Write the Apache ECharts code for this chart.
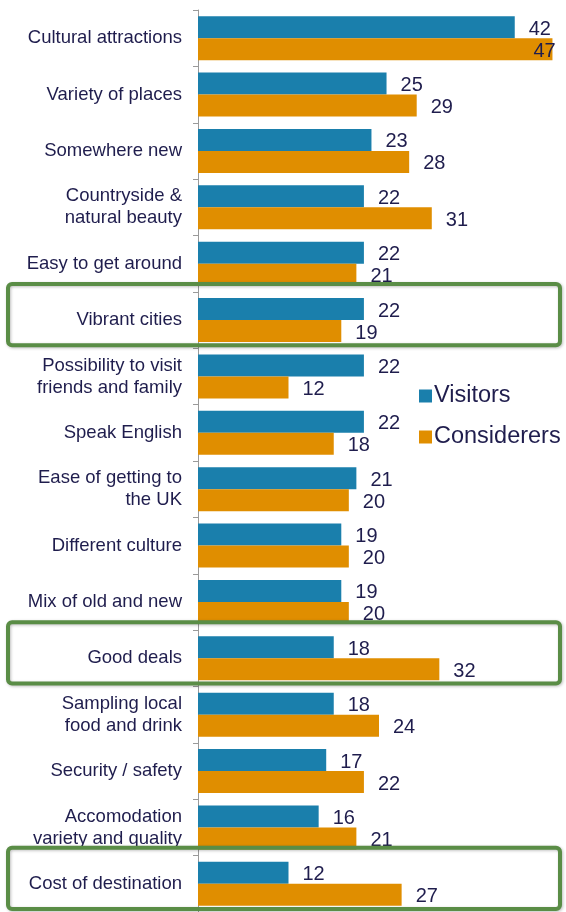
<!DOCTYPE html>
<html>
<head>
<meta charset="utf-8">
<script src="https://cdn.jsdelivr.net/npm/echarts@6/dist/echarts.min.js"></script>
<style>
html,body{margin:0;padding:0;background:#fff;}
#chart{width:566px;height:912px;}
</style>
</head>
<body>
<div id="chart"></div>
<script>
var categories = [
  "Cultural attractions",
  "Variety of places",
  "Somewhere new",
  "Countryside &\nnatural beauty",
  "Easy to get around",
  "Vibrant cities",
  "Possibility to visit\nfriends and family",
  "Speak English",
  "Ease of getting to\nthe UK",
  "Different culture",
  "Mix of old and new",
  "Good deals",
  "Sampling local\nfood and drink",
  "Security / safety",
  "Accomodation\nvariety and quality",
  "Cost of destination"
];
var visitors    = [42, 25, 23, 22, 22, 22, 22, 22, 21, 19, 19, 18, 18, 17, 16, 12];
var considerers = [47, 29, 28, 31, 21, 19, 12, 18, 20, 20, 20, 32, 24, 22, 21, 27];
var highlighted = ["Vibrant cities", "Good deals", "Cost of destination"];

var textColor = '#1f1d4d';
var font = 'Liberation Sans, Arial, sans-serif';

var chart = echarts.init(document.getElementById('chart'));
function labelCfg() {
  return {
    show: true, position: 'right', distance: 14, offset: [0, 2],
    color: textColor, fontSize: 20, fontFamily: font
  };
}
var maxC = Math.max.apply(null, considerers);
var considerersData = considerers.map(function (v) {
  if (v === maxC) {
    return {value: v, label: {offset: [-33, 2]}};
  }
  return v;
});
chart.setOption({
  animation: false,
  grid: {left: 198, right: 6, top: 10, bottom: 0, containLabel: false},
  legend: {
    orient: 'vertical', left: 414, top: 379,
    itemWidth: 13, itemHeight: 13, itemGap: 17,
    icon: 'rect',
    textStyle: {color: textColor, fontSize: 23.5, fontFamily: font, padding: [0,0,0,-3]},
    data: ['Visitors', 'Considerers']
  },
  xAxis: {
    type: 'value', min: 0, max: 48,
    show: false, splitLine: {show: false}
  },
  yAxis: {
    type: 'category', data: categories, inverse: true,
    axisLine: {lineStyle: {color: '#9a9a9a', width: 1}},
    axisTick: {show: true, length: 5, lineStyle: {color: '#9a9a9a'}},
    axisLabel: {color: textColor, fontSize: 18.5, fontFamily: font, margin: 16, lineHeight: 22, align: 'right'}
  },
  series: [
    {name: 'Visitors', type: 'bar', data: visitors, barGap: '0%', barCategoryGap: '22%',
     itemStyle: {color: '#1a7fac'}, label: labelCfg()},
    {name: 'Considerers', type: 'bar', data: considerersData,
     itemStyle: {color: '#e08e00'}, label: labelCfg()}
  ]
});

var step = chart.convertToPixel({yAxisIndex: 0}, categories[1]) - chart.convertToPixel({yAxisIndex: 0}, categories[0]);
var graphics = highlighted.map(function (c) {
  var cy = chart.convertToPixel({yAxisIndex: 0}, c);
  return {
    type: 'rect', z: 100,
    shape: {x: 8, y: cy - step / 2 - 8, width: 552, height: step + 5, r: 4},
    style: {fill: 'none', stroke: '#5a8d46', lineWidth: 4,
            shadowBlur: 3, shadowColor: 'rgba(0,0,0,0.25)', shadowOffsetX: 1, shadowOffsetY: 1}
  };
});
chart.setOption({graphic: graphics});
</script>
</body>
</html>
